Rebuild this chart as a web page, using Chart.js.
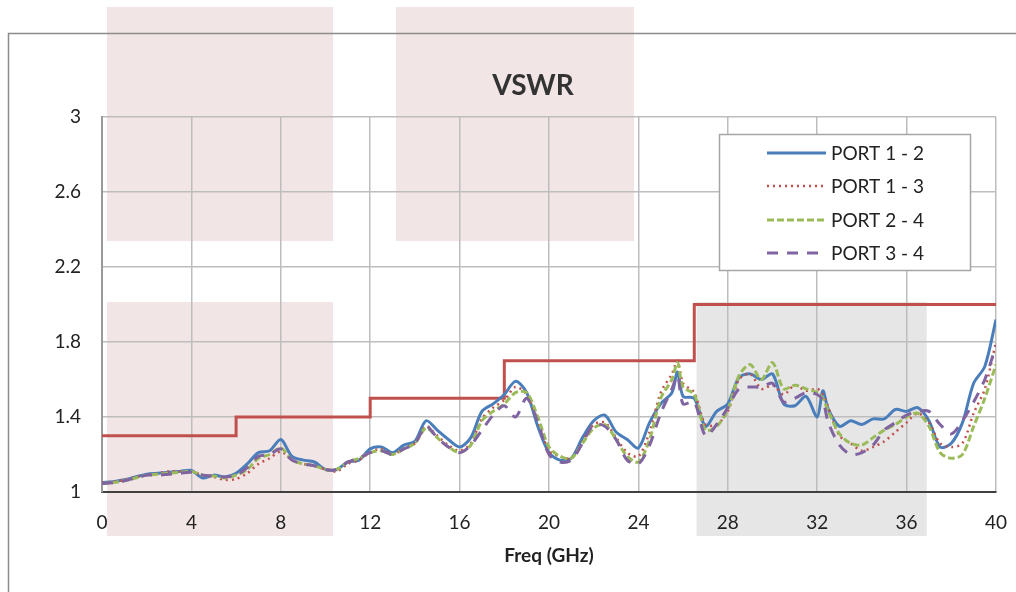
<!DOCTYPE html>
<html>
<head>
<meta charset="utf-8">
<script src="https://cdn.jsdelivr.net/npm/chart.js@4.4.1/dist/chart.umd.min.js"></script>
<style>
  html, body { margin: 0; padding: 0; background: #fff; }
  canvas { display: block; }
</style>
</head>
<body>
<canvas id="vswrChart" width="1016" height="592"></canvas>
<script>
// Frequency points (GHz)
const freq = [0,0.5,1,1.5,2,2.5,3,3.5,4,4.5,5,5.5,6,6.5,7,7.5,8,8.5,9,9.5,10,10.5,11,11.5,12,12.5,13,13.5,14,14.5,15,15.5,16,16.5,17,17.5,18,18.5,19,19.5,20,20.5,21,21.5,22,22.5,23,23.5,24,24.5,25,25.5,25.75,26,26.5,27,27.5,28,28.5,29,29.5,30,30.5,31,31.5,32,32.25,32.5,33,33.5,34,34.5,35,35.5,36,36.5,37,37.5,38,38.5,39,39.5,40];

const port12 = [1.05,1.055,1.065,1.08,1.095,1.10,1.105,1.11,1.115,1.075,1.09,1.08,1.10,1.15,1.21,1.22,1.28,1.19,1.17,1.16,1.12,1.12,1.16,1.17,1.23,1.24,1.21,1.25,1.27,1.38,1.33,1.28,1.24,1.29,1.43,1.47,1.52,1.59,1.53,1.35,1.21,1.17,1.18,1.29,1.38,1.41,1.32,1.28,1.235,1.37,1.47,1.53,1.64,1.51,1.50,1.35,1.43,1.47,1.61,1.63,1.60,1.63,1.47,1.46,1.51,1.40,1.54,1.44,1.35,1.38,1.36,1.39,1.39,1.44,1.43,1.45,1.38,1.24,1.26,1.37,1.58,1.67,1.92];

const port13 = [1.05,1.055,1.065,1.08,1.09,1.10,1.11,1.11,1.11,1.09,1.08,1.065,1.07,1.10,1.15,1.18,1.215,1.17,1.15,1.14,1.12,1.11,1.15,1.17,1.21,1.23,1.20,1.23,1.26,1.35,1.30,1.25,1.22,1.26,1.39,1.45,1.49,1.56,1.52,1.38,1.22,1.19,1.18,1.27,1.36,1.37,1.29,1.21,1.19,1.32,1.53,1.63,1.70,1.58,1.53,1.36,1.36,1.43,1.60,1.63,1.55,1.57,1.52,1.57,1.54,1.55,1.52,1.45,1.30,1.26,1.22,1.24,1.27,1.32,1.37,1.42,1.37,1.26,1.24,1.26,1.42,1.55,1.80];

const port24 = [1.045,1.05,1.06,1.075,1.09,1.095,1.10,1.105,1.11,1.09,1.085,1.075,1.09,1.12,1.18,1.20,1.235,1.17,1.15,1.14,1.12,1.12,1.16,1.18,1.21,1.22,1.20,1.23,1.26,1.34,1.29,1.24,1.21,1.25,1.38,1.43,1.47,1.53,1.53,1.40,1.24,1.19,1.18,1.26,1.34,1.36,1.28,1.19,1.16,1.28,1.50,1.60,1.69,1.56,1.52,1.33,1.35,1.44,1.62,1.68,1.60,1.69,1.55,1.57,1.55,1.53,1.50,1.43,1.31,1.26,1.25,1.29,1.33,1.36,1.40,1.42,1.35,1.21,1.18,1.20,1.35,1.50,1.68];

const port34 = [1.045,1.05,1.06,1.075,1.09,1.09,1.095,1.10,1.105,1.09,1.085,1.08,1.09,1.13,1.19,1.20,1.23,1.17,1.15,1.14,1.12,1.12,1.16,1.18,1.21,1.22,1.20,1.23,1.26,1.35,1.29,1.24,1.21,1.25,1.33,1.41,1.46,1.40,1.50,1.37,1.20,1.16,1.17,1.26,1.36,1.35,1.28,1.17,1.15,1.25,1.42,1.55,1.62,1.47,1.48,1.30,1.36,1.45,1.55,1.56,1.56,1.58,1.48,1.50,1.53,1.52,1.49,1.37,1.25,1.20,1.21,1.25,1.33,1.37,1.41,1.43,1.43,1.36,1.31,1.38,1.48,1.60,1.78];

// Spec limit (step line)
const limitFreq = [0, 6, 12, 18, 26.5, 40];
const limitVswr = [1.3, 1.4, 1.5, 1.7, 2.0, 2.0];

const yTicks = [1, 1.4, 1.8, 2.2, 2.6, 3];
const seriesNames = ['PORT 1 - 2', 'PORT 1 - 3', 'PORT 2 - 4', 'PORT 3 - 4'];

const FONT = 'Lato, "Open Sans", sans-serif';

function toPoints(xs, ys) {
    return xs.map((x, i) => ({ x: x, y: ys[i] }));
}

// Background blocks seen in the picture (pixel boxes) and the grey band (GHz)
const pinkBoxes = [[107, 7, 226, 234], [396, 7, 238, 234], [107, 302, 226, 234]];
const greyBand = [26.6, 36.9];

const backgroundPlugin = {
    id: 'background',
    beforeDraw(chart) {
        const ctx = chart.ctx;
        const xs = chart.scales.x;
        ctx.save();
        ctx.fillStyle = '#fff';
        ctx.fillRect(0, 0, chart.width, chart.height);
        ctx.fillStyle = '#f2e5e5';
        pinkBoxes.forEach(b => ctx.fillRect(b[0], b[1], b[2], b[3]));
        const gx0 = xs.getPixelForValue(greyBand[0]);
        const gx1 = xs.getPixelForValue(greyBand[1]);
        ctx.fillStyle = '#e6e6e6';
        ctx.fillRect(gx0, 302, gx1 - gx0, 234);
        // outer chart border
        ctx.strokeStyle = '#8c8c8c';
        ctx.lineWidth = 1.5;
        ctx.beginPath();
        ctx.moveTo(8.5, chart.height);
        ctx.lineTo(8.5, 33.5);
        ctx.lineTo(chart.width, 33.5);
        ctx.stroke();
        ctx.restore();
    }
};

const decorPlugin = {
    id: 'decor',
    afterDraw(chart) {
        const ctx = chart.ctx;
        ctx.save();
        // title
        ctx.fillStyle = '#333';
        ctx.font = 'bold 28px ' + FONT;
        ctx.textAlign = 'center';
        ctx.textBaseline = 'middle';
        ctx.fillText('VSWR', 533, 86);

        // legend box
        ctx.fillStyle = '#fff';
        ctx.fillRect(719, 134, 251, 136);
        ctx.strokeStyle = '#a6a6a6';
        ctx.lineWidth = 1.5;
        ctx.strokeRect(719.5, 134.5, 251, 136);

        const rowsY = [153, 186, 220, 253];
        chart.data.datasets.slice(0, 4).forEach((ds, i) => {
            const y = rowsY[i];
            ctx.strokeStyle = ds.borderColor;
            ctx.lineWidth = ds.borderWidth;
            ctx.setLineDash(ds.borderDash || []);
            ctx.beginPath();
            ctx.moveTo(767, y);
            ctx.lineTo(i === 3 ? 818 : 826, y);
            ctx.stroke();
            ctx.setLineDash([]);
            ctx.fillStyle = '#222';
            ctx.font = '19px ' + FONT;
            ctx.textAlign = 'left';
            ctx.textBaseline = 'middle';
            ctx.fillText(ds.label, 831, y + 1);
        });
        ctx.restore();
    }
};

const ctx = document.getElementById('vswrChart').getContext('2d');

new Chart(ctx, {
    type: 'line',
    data: {
        datasets: [
            {
                label: seriesNames[0],
                data: toPoints(freq, port12),
                borderColor: '#4a7ebb',
                borderWidth: 3,
                order: 4
            },
            {
                label: seriesNames[1],
                data: toPoints(freq, port13),
                borderColor: '#c0504d',
                borderWidth: 2.5,
                borderDash: [2, 4],
                order: 3
            },
            {
                label: seriesNames[2],
                data: toPoints(freq, port24),
                borderColor: '#9bbb59',
                borderWidth: 3,
                borderDash: [7, 3],
                order: 2
            },
            {
                label: seriesNames[3],
                data: toPoints(freq, port34),
                borderColor: '#8064a2',
                borderWidth: 3,
                borderDash: [11, 9],
                order: 1
            },
            {
                label: 'Limit',
                data: toPoints(limitFreq, limitVswr),
                borderColor: '#c0504d',
                borderWidth: 3,
                stepped: true,
                tension: 0,
                order: 5
            }
        ]
    },
    options: {
        responsive: false,
        animation: false,
        devicePixelRatio: 1,
        layout: { padding: { top: 117, right: 0, left: 0, bottom: 22 } },
        elements: {
            point: { radius: 0 },
            line: { tension: 0.3, fill: false }
        },
        plugins: {
            legend: { display: false },
            tooltip: { enabled: false }
        },
        scales: {
            x: {
                type: 'linear',
                min: 0,
                max: 40,
                afterFit: scale => {
                    scale.height = 78;
                    scale.paddingLeft = 0;
                    scale.paddingRight = 20;
                },
                ticks: {
                    stepSize: 4,
                    padding: 19,
                    color: '#222',
                    font: { family: FONT, size: 19 }
                },
                grid: { color: '#bdbdbd', lineWidth: 1.5, drawTicks: false },
                border: { color: '#404040', width: 2 },
                title: {
                    display: true,
                    text: 'Freq (GHz)',
                    color: '#222',
                    font: { family: FONT, size: 19, weight: 'bold' },
                    padding: { top: 0, bottom: 3 }
                }
            },
            y: {
                min: 1,
                max: 3,
                afterFit: scale => { scale.width = 102; },
                afterBuildTicks: scale => { scale.ticks = yTicks.map(v => ({ value: v })); },
                ticks: {
                    padding: 21,
                    color: '#222',
                    font: { family: FONT, size: 19 },
                    callback: v => String(Math.round(v * 10) / 10)
                },
                grid: { color: '#bdbdbd', lineWidth: 1.5, drawTicks: false },
                border: { color: '#999', width: 2 }
            }
        }
    },
    plugins: [backgroundPlugin, decorPlugin]
});
</script>
</body>
</html>
